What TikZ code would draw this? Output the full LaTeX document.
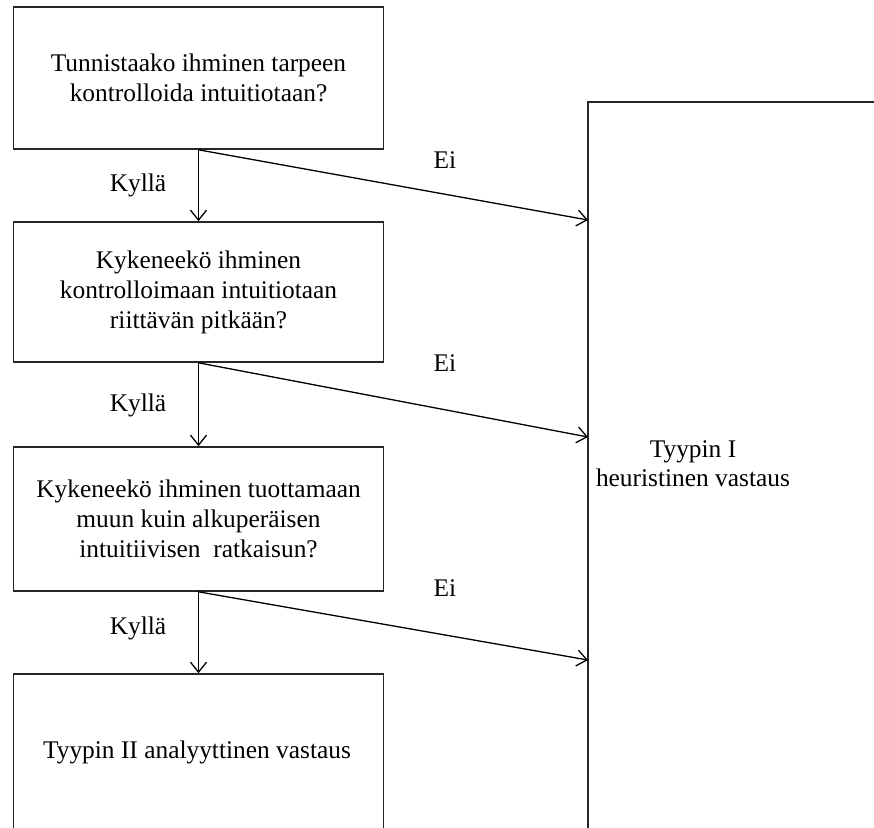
\documentclass[tikz,border=0pt]{standalone}
\usepackage{fontspec}
\setmainfont{Liberation Serif}
\usetikzlibrary{arrows.meta}
\begin{document}
\begin{tikzpicture}[x=0.5pt,y=-0.5pt,
  box/.style={draw=black!85,line width=0.8pt,rectangle,minimum width=185pt,align=center,inner sep=0pt,
    font=\fontsize{12.7}{15}\selectfont},
  conn/.style={line width=0.65pt,-{Straight Barb[length=5pt,width=8pt,line width=0.65pt]}},
  lbl/.style={font=\fontsize{12.7}{15}\selectfont,inner sep=0pt}]
\useasboundingbox (0,0) rectangle (874,827);
\clip (0,0) rectangle (874,827);
\fill[white] (0,0) rectangle (874,827);
\node[box,minimum height=71pt] (box1) at (198.5,78) {Tunnistaako ihminen tarpeen\\kontrolloida intuitiotaan?};
\node[box,minimum height=70pt] (box2) at (198.5,292) {Kykeneekö ihminen\\kontrolloimaan intuitiotaan\\riittävän pitkään?};
\node[box,minimum height=72pt] (box3) at (198.5,519) {Kykeneekö ihminen tuottamaan\\muun kuin alkuperäisen\\intuitiivisen~ ratkaisun?};
\node[box,minimum height=113pt] (box4) at (198.5,787) {};
\node[lbl] (t4) at (197,752) {Tyypin II analyyttinen vastaus};
\node[draw=black!85,line width=0.8pt,minimum width=206pt,minimum height=498.5pt,inner sep=0pt] (right) at (794,600.5) {};
\node[lbl,align=center] (t5) at (693,464) {Tyypin I\\[-0.5pt]heuristinen vastaus};
\coordinate (e1) at (588,220);
\coordinate (e2) at (588,437);
\coordinate (e3) at (588,660);
\draw[conn] (box1.south) -- (box2.north);
\draw[conn] (box2.south) -- (box3.north);
\draw[conn] (box3.south) -- (box4.north);
\draw[conn] (box1.south) -- (e1);
\draw[conn] (box2.south) -- (e2);
\draw[conn] (box3.south) -- (e3);
\node[lbl] (k1) at (138,185) {Kyllä};
\node[lbl] (k2) at (138,405) {Kyllä};
\node[lbl] (k3) at (138,628) {Kyllä};
\node[lbl] (n1) at (445,160) {Ei};
\node[lbl] (n2) at (445,363) {Ei};
\node[lbl] (n3) at (445,588) {Ei};
\end{tikzpicture}
\end{document}
